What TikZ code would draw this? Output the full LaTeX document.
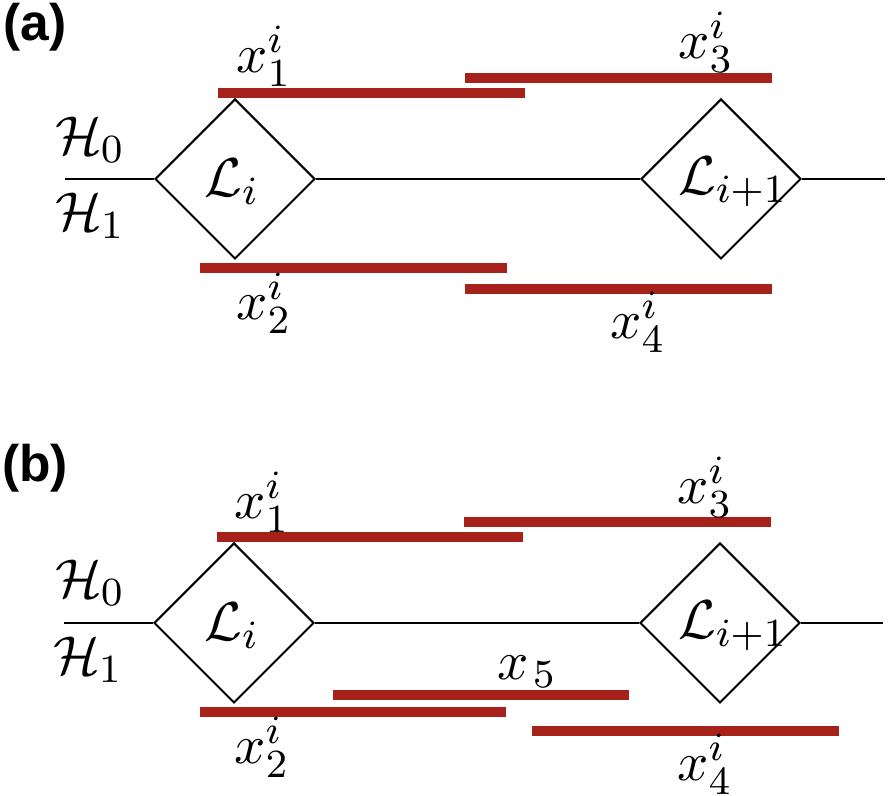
\documentclass[tikz,border=0pt]{standalone}
\usepackage{fontspec}
\newfontfamily\panelfont{Liberation Sans}
\usetikzlibrary{shapes.geometric}
\definecolor{barred}{RGB}{165,33,26}
\begin{document}
\begin{tikzpicture}[x=0.2pt,y=-0.2pt,
  dia/.style={draw,diamond,aspect=1,inner sep=0pt,minimum width=32pt,minimum height=32pt,line width=0.4pt},
  wire/.style={line width=0.4pt},
  bar/.style={draw=barred,line width=2pt},
  lab/.style={inner sep=0pt,font=\fontsize{10.95}{13}\selectfont},
  panel/.style={inner sep=0pt,font=\panelfont\bfseries\fontsize{10.3}{12}\selectfont}]
\useasboundingbox (0,0) rectangle (894,796);

% ---------- panel (a) ----------
\node[panel] (pa) at (35,27) {(a)};
\coordinate (a-in) at (65,179);
\coordinate (a-out) at (885,179);
\node[dia] (a-L1) at (235,179) {};
\node[dia] (a-L2) at (721,179) {};
\draw[wire] (a-in) -- (a-L1.west);
\draw[wire] (a-L1.east) -- (a-L2.west);
\draw[wire] (a-L2.east) -- (a-out);
\node[lab] (a-L1t) at (232,182) {$\mathcal{L}_i$};
\node[lab] (a-L2t) at (733,182) {$\mathcal{L}_{i+1}$};
\node[lab] (a-H0) at (90,140) {$\mathcal{H}_0$};
\node[lab] (a-H1) at (90,216) {$\mathcal{H}_1$};
\draw[bar] (218,93) -- (525,93);
\draw[bar] (465,78) -- (772,78);
\draw[bar] (200,268) -- (507,268);
\draw[bar] (465,289) -- (772,289);
\node[lab] (a-x1) at (264,56) {$x_1^i$};
\node[lab] (a-x3) at (706,42) {$x_3^i$};
\node[lab] (a-x2) at (264,303) {$x_2^i$};
\node[lab] (a-x4) at (638,322) {$x_4^i$};

% ---------- panel (b) ----------
\node[panel] (pb) at (35,468) {(b)};
\coordinate (b-in) at (64,623);
\coordinate (b-out) at (883,623);
\node[dia] (b-L1) at (234,623) {};
\node[dia] (b-L2) at (720,623) {};
\draw[wire] (b-in) -- (b-L1.west);
\draw[wire] (b-L1.east) -- (b-L2.west);
\draw[wire] (b-L2.east) -- (b-out);
\node[lab] (b-L1t) at (232,626) {$\mathcal{L}_i$};
\node[lab] (b-L2t) at (733,626) {$\mathcal{L}_{i+1}$};
\node[lab] (b-H0) at (90,583) {$\mathcal{H}_0$};
\node[lab] (b-H1) at (88,660) {$\mathcal{H}_1$};
\draw[bar] (217,537) -- (523,537);
\draw[bar] (464,522) -- (771,522);
\draw[bar] (333,695) -- (629,695);
\draw[bar] (200,712) -- (506,712);
\draw[bar] (532,731) -- (839,731);
\node[lab] (b-x1) at (262,502) {$x_1^i$};
\node[lab] (b-x3) at (705,487) {$x_3^i$};
\node[lab] (b-x5) at (527,672) {$x_{\mkern2mu 5}$};
\node[lab] (b-x2) at (262,747) {$x_2^i$};
\node[lab] (b-x4) at (705,764) {$x_4^i$};
\end{tikzpicture}
\end{document}
